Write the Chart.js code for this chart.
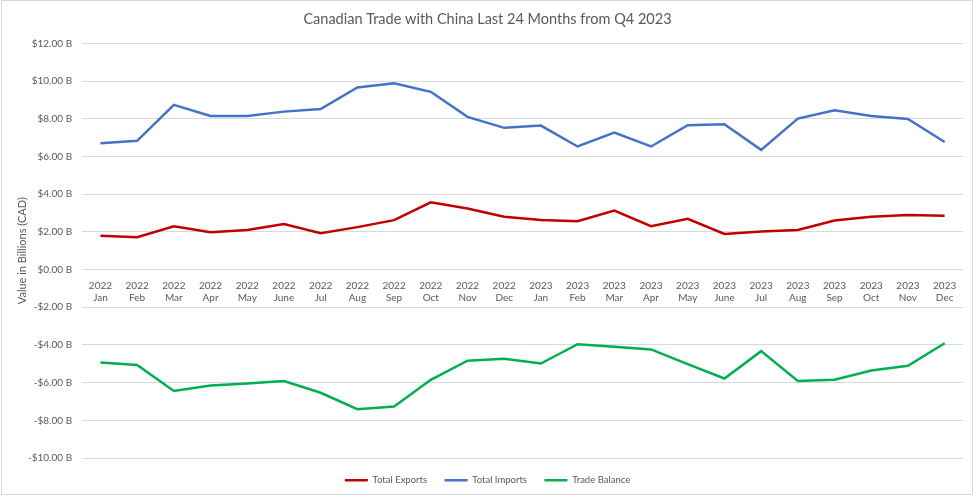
<!DOCTYPE html>
<html>
<head>
<meta charset="utf-8">
<script src="https://cdn.jsdelivr.net/npm/chart.js@4"></script>
<style>
    html, body { margin: 0; padding: 0; background: #fff; }
    .chart-wrapper {
        position: relative;
        width: 977px;
        height: 497px;
    }
    .frame {
        position: absolute;
        left: 1px; top: 0; width: 972px; height: 495px;
        border: 1px solid #d9d9d9;
        box-sizing: border-box;
        pointer-events: none;
    }
</style>
</head>
<body>
<div class="chart-wrapper">
    <canvas id="tradeChart" width="977" height="497"></canvas>
    <div class="frame"></div>
</div>
<script>
// Month labels (two lines: year / month)
const years = ['2022','2022','2022','2022','2022','2022','2022','2022','2022','2022','2022','2022',
               '2023','2023','2023','2023','2023','2023','2023','2023','2023','2023','2023','2023'];
const months = ['Jan','Feb','Mar','Apr','May','June','Jul','Aug','Sep','Oct','Nov','Dec',
                'Jan','Feb','Mar','Apr','May','June','Jul','Aug','Sep','Oct','Nov','Dec'];

// Values in billions CAD
const totalExports = [1.79, 1.72, 2.30, 1.98, 2.10, 2.42, 1.93, 2.25, 2.62, 3.57, 3.24, 2.80,
                      2.63, 2.56, 3.13, 2.30, 2.69, 1.89, 2.02, 2.10, 2.60, 2.80, 2.90, 2.85];
const totalImports = [6.70, 6.83, 8.74, 8.15, 8.15, 8.38, 8.52, 9.66, 9.88, 9.43, 8.10, 7.52,
                      7.64, 6.53, 7.27, 6.53, 7.66, 7.71, 6.35, 8.01, 8.45, 8.15, 7.99, 6.77];
const tradeBalance = [-4.93, -5.06, -6.44, -6.15, -6.05, -5.92, -6.54, -7.41, -7.27, -5.85, -4.84, -4.74,
                      -4.99, -3.96, -4.10, -4.24, -5.02, -5.78, -4.33, -5.91, -5.85, -5.36, -5.11, -3.91];

const textColor = '#595959';
const gridColor = '#d9d9d9';
const fontFamily = 'Lato, "Open Sans", sans-serif';

const labels = years.map((y, i) => [y, months[i]]);

function formatBillions(value) {
    const abs = Math.abs(value).toFixed(2);
    return (value < 0 ? '-$' : '$') + abs + ' B';
}

function makeDataset(label, data, color) {
    return {
        label: label,
        data: data,
        borderColor: color,
        backgroundColor: color,
        borderWidth: 2.5,
        pointRadius: 0,
        tension: 0,
        fill: false
    };
}

const ctx = document.getElementById('tradeChart').getContext('2d');
new Chart(ctx, {
    type: 'line',
    data: {
        labels: labels,
        datasets: [
            makeDataset('Total Exports', totalExports, '#c00000'),
            makeDataset('Total Imports', totalImports, '#4472c4'),
            makeDataset('Trade Balance', tradeBalance, '#00b050')
        ]
    },
    options: {
        responsive: false,
        animation: false,
        layout: {
            padding: { left: 12, right: 14, top: 9, bottom: 2 }
        },
        plugins: {
            title: {
                display: true,
                text: 'Canadian Trade with China Last 24 Months from Q4 2023',
                color: textColor,
                font: { family: fontFamily, size: 14.5, weight: 'normal' },
                padding: { top: 2, bottom: 15 }
            },
            legend: {
                position: 'bottom',
                labels: {
                    color: textColor,
                    font: { family: fontFamily, size: 9.5 },
                    usePointStyle: true,
                    pointStyle: 'line',
                    pointStyleWidth: 23,
                    boxHeight: 9,
                    padding: 17.5
                }
            },
            tooltip: { enabled: false }
        },
        scales: {
            x: {
                position: { y: 0 },
                offset: true,
                grid: { display: false, drawTicks: false, offset: true },
                border: { display: false },
                ticks: {
                    color: textColor,
                    font: { family: fontFamily, size: 10 },
                    padding: 10,
                    maxRotation: 0,
                    autoSkip: false
                }
            },
            y: {
                min: -10,
                max: 12,
                grid: { color: gridColor, lineWidth: 1, drawTicks: false },
                border: { display: false },
                ticks: {
                    stepSize: 2,
                    color: textColor,
                    font: { family: fontFamily, size: 10 },
                    padding: 10,
                    callback: function(value) {
                        return formatBillions(value);
                    }
                },
                title: {
                    display: true,
                    text: 'Value in Billions (CAD)',
                    color: textColor,
                    font: { family: fontFamily, size: 11 },
                    padding: { top: 3.4, bottom: -10.6 }
                }
            }
        }
    }
});
</script>
</body>
</html>
